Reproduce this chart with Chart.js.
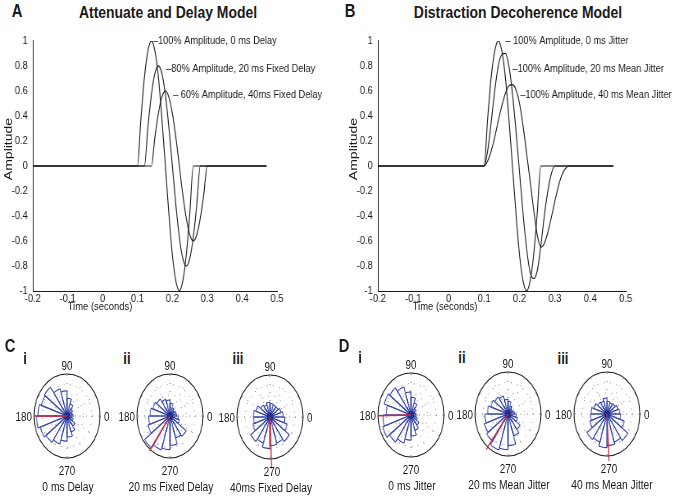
<!DOCTYPE html>
<html>
<head>
<meta charset="utf-8">
<script src="https://cdn.jsdelivr.net/npm/chart.js@4.4.1/dist/chart.umd.min.js"></script>
<style>
  html, body { margin: 0; padding: 0; background: #fff; }
  #fig { position: relative; width: 675px; height: 497px; overflow: hidden;
         font-family: 'Liberation Sans', Arial, sans-serif; color: #1a1a1a; }
  #fig canvas { position: absolute; }
  .t { position: absolute; white-space: nowrap; transform: translate(-50%, -50%) scaleX(0.82); line-height: 1; }
  .b { font-weight: bold; }
  .rot { transform: translate(-50%, -50%) rotate(-90deg) scaleY(0.82); }
</style>
</head>
<body>
<div id="fig">
  <!-- the whole figure is condensed horizontally, so canvases are drawn wide and squeezed by css -->
  <canvas id="chartA" width="410" height="290" style="left:0;top:28px;width:336px;height:290px"></canvas>
  <canvas id="chartB" width="402" height="290" style="left:345px;top:28px;width:330px;height:290px"></canvas>

  <div class="t b" style="left:17px;top:11px;font-size:18px">A</div>
  <div class="t b" style="left:168px;top:12px;font-size:17px">Attenuate and Delay Model</div>
  <div class="t b" style="left:350px;top:11px;font-size:18px">B</div>
  <div class="t b" style="left:518px;top:12px;font-size:17px">Distraction Decoherence Model</div>
  <div class="t rot" style="left:8px;top:149px;font-size:14px">Amplitude</div>
  <div class="t rot" style="left:353px;top:149px;font-size:14px">Amplitude</div>
  <div class="t" style="left:100px;top:307px;font-size:11.5px">Time (seconds)</div>
  <div class="t" style="left:445px;top:307px;font-size:11.5px">Time (seconds)</div>

  <div class="t b" style="left:10px;top:346px;font-size:18px">C</div>
  <div class="t b" style="left:344px;top:346px;font-size:18px">D</div>
  <div class="t b" style="left:25px;top:359px;font-size:16px">i</div>
  <div class="t b" style="left:127px;top:359px;font-size:16px">ii</div>
  <div class="t b" style="left:238px;top:359px;font-size:16px">iii</div>
  <div class="t b" style="left:360px;top:358px;font-size:16px">i</div>
  <div class="t b" style="left:462px;top:358px;font-size:16px">ii</div>
  <div class="t b" style="left:563px;top:359px;font-size:16px">iii</div>
</div>

<script>
const FONT = "'Liberation Sans', Arial, sans-serif";

// waveforms, panel A (attenuate + fixed delay)
const timeA1 = [-0.2, 0.10, 0.11, 0.12, 0.13, 0.14, 0.15, 0.16, 0.17, 0.18, 0.19, 0.20, 0.21, 0.22, 0.23, 0.24, 0.25, 0.26, 0.47];
const ampA1  = [0, 0, 0.38, 0.71, 0.92, 1, 0.92, 0.71, 0.38, 0, -0.38, -0.71, -0.92, -1, -0.92, -0.71, -0.38, 0, 0];
const timeA2 = [-0.2, 0.12, 0.13, 0.14, 0.15, 0.16, 0.17, 0.18, 0.19, 0.20, 0.21, 0.22, 0.23, 0.24, 0.25, 0.26, 0.27, 0.28, 0.47];
const ampA2  = [0, 0, 0.31, 0.57, 0.74, 0.8, 0.74, 0.57, 0.31, 0, -0.31, -0.57, -0.74, -0.8, -0.74, -0.57, -0.31, 0, 0];
const timeA3 = [-0.2, 0.14, 0.15, 0.16, 0.17, 0.18, 0.19, 0.20, 0.21, 0.22, 0.23, 0.24, 0.25, 0.26, 0.27, 0.28, 0.29, 0.30, 0.47];
const ampA3  = [0, 0, 0.23, 0.42, 0.55, 0.6, 0.55, 0.42, 0.23, 0, -0.23, -0.42, -0.55, -0.6, -0.55, -0.42, -0.23, 0, 0];

// waveforms, panel B (jitter)
const timeB1 = [-0.2, 0.10, 0.11, 0.12, 0.13, 0.14, 0.15, 0.16, 0.17, 0.18, 0.19, 0.20, 0.21, 0.22, 0.23, 0.24, 0.25, 0.26, 0.465];
const ampB1  = [0, 0, 0.38, 0.71, 0.92, 1, 0.92, 0.71, 0.38, 0, -0.38, -0.71, -0.92, -1, -0.92, -0.71, -0.38, 0, 0];
const timeB2 = [-0.2, 0.10, 0.11, 0.12, 0.13, 0.14, 0.15, 0.16, 0.17, 0.18, 0.19, 0.20, 0.21, 0.22, 0.23, 0.24, 0.25, 0.26, 0.27, 0.28, 0.29, 0.30, 0.465];
const ampB2  = [0, 0, 0.12, 0.35, 0.6, 0.8, 0.89, 0.9, 0.8, 0.58, 0.28, -0.05, -0.38, -0.66, -0.85, -0.9, -0.84, -0.64, -0.4, -0.2, -0.06, 0, 0];
const timeB3 = [-0.2, 0.10, 0.11, 0.12, 0.13, 0.14, 0.15, 0.16, 0.17, 0.18, 0.19, 0.20, 0.21, 0.22, 0.23, 0.24, 0.25, 0.26, 0.27, 0.28, 0.29, 0.30, 0.31, 0.32, 0.33, 0.34, 0.465];
const ampB3  = [0, 0, 0.04, 0.12, 0.23, 0.36, 0.48, 0.58, 0.64, 0.65, 0.61, 0.5, 0.32, 0.1, -0.12, -0.35, -0.55, -0.65, -0.62, -0.53, -0.41, -0.28, -0.16, -0.07, -0.02, 0, 0];

const labelsA = ['\u2013100% Amplitude, 0 ms Delay', '\u201380% Amplitude, 20 ms Fixed Delay', '\u2013 60% Amplitude, 40ms Fixed Delay'];
const labelsB = ['\u2013 100% Amplitude, 0 ms Jitter', '\u2013100% Amplitude, 20 ms Mean Jitter', '\u2013100% Amplitude, 40 ms Mean Jitter'];

// rose histograms: 20 bins of 18 deg, counter-clockwise from 0 deg, relative to outer ring
const roseBins = [0, 18, 36, 54, 72, 90, 108, 126, 144, 162, 180, 198, 216, 234, 252, 270, 288, 306, 324, 342];
const roseC1 = [0.18, 0.15, 0.2, 0.3, 0.42, 0.6, 0.68, 0.85, 0.82, 0.88, 0.92, 0.85, 0.78, 0.7, 0.6, 0.5, 0.4, 0.3, 0.2, 0.15];
const roseC2 = [0.2, 0.18, 0.15, 0.2, 0.3, 0.38, 0.42, 0.5, 0.55, 0.6, 0.65, 0.7, 0.95, 0.85, 0.8, 0.7, 0.55, 0.6, 0.3, 0.25];
const roseC3 = [0.4, 0.35, 0.3, 0.3, 0.32, 0.35, 0.3, 0.35, 0.45, 0.5, 0.5, 0.55, 0.72, 0.65, 0.75, 0.68, 0.65, 0.72, 0.55, 0.45];
const roseD1 = [0.15, 0.12, 0.18, 0.3, 0.42, 0.55, 0.7, 0.8, 0.85, 0.75, 0.85, 0.9, 0.8, 0.7, 0.6, 0.5, 0.38, 0.3, 0.2, 0.15];
const roseD2 = [0.2, 0.15, 0.15, 0.2, 0.3, 0.35, 0.45, 0.5, 0.55, 0.62, 0.7, 0.75, 0.8, 0.9, 0.85, 0.75, 0.55, 0.45, 0.3, 0.25];
const roseD3 = [0.38, 0.35, 0.3, 0.28, 0.3, 0.38, 0.32, 0.35, 0.42, 0.48, 0.5, 0.55, 0.75, 0.7, 0.8, 0.75, 0.7, 0.78, 0.55, 0.42];
const meanAngle  = [180, 233, 272, 181, 232, 273];
const meanLength = [1.0, 1.05, 1.23, 1.0, 1.07, 1.12];
const roseTitles = ['0 ms Delay', '20 ms Fixed Delay', '40ms Fixed Delay', '0 ms Jitter', '20 ms Mean Jitter', '40 ms Mean Jitter'];
const roseAxisLabels = ['0', '90', '180', '270'];

// layout of the six roses (page centres)
const rosePlaces = [[67, 416], [170, 416], [270, 417], [411, 415], [508, 414], [607, 414]];

Chart.defaults.font.family = FONT;
Chart.defaults.color = '#1a1a1a';

function curveLabels(items) {
  return {
    id: 'curveLabels',
    afterDatasetsDraw(chart) {
      const {ctx, scales: {x, y}} = chart;
      ctx.save();
      ctx.font = '11.3px ' + FONT;
      ctx.fillStyle = '#1a1a1a';
      ctx.textBaseline = 'middle';
      items.forEach(it => ctx.fillText(it.text, x.getPixelForValue(it.x), y.getPixelForValue(it.y)));
      ctx.restore();
    }
  };
}

const tickText = v => String(Math.round(v * 10) / 10);

function waveChart(id, curves, padRight, items) {
  return new Chart(document.getElementById(id), {
    type: 'line',
    data: {
      datasets: curves.map(c => ({
        data: c[0].map((t, i) => ({x: t, y: c[1][i]})),
        borderColor: '#1a1a1a',
        borderWidth: 1.1,
        pointRadius: 0,
        fill: false,
        cubicInterpolationMode: 'monotone'
      }))
    },
    options: {
      responsive: false,
      animation: false,
      events: [],
      layout: {padding: {top: 10, right: padRight, left: 0, bottom: 0}},
      plugins: {legend: {display: false}, tooltip: {enabled: false}},
      scales: {
        x: {
          type: 'linear', min: -0.2, max: 0.5,
          ticks: {stepSize: 0.1, padding: 1, font: {size: 11.5}, callback: tickText},
          grid: {display: false, drawTicks: false},
          border: {color: '#1a1a1a'},
          afterFit: s => { s.height = 27; }
        },
        y: {
          min: -1, max: 1,
          ticks: {stepSize: 0.2, padding: 6, font: {size: 11.5}, callback: tickText},
          grid: {display: false, drawTicks: false},
          border: {color: '#1a1a1a'},
          afterFit: s => { s.width = 40; }
        }
      }
    },
    plugins: [curveLabels(items)]
  });
}

waveChart('chartA', [[timeA1, ampA1], [timeA2, ampA2], [timeA3, ampA3]], 72, [
  {text: labelsA[0], x: 0.144, y: 1.0},
  {text: labelsA[1], x: 0.182, y: 0.78},
  {text: labelsA[2], x: 0.202, y: 0.565}
]);
waveChart('chartB', [[timeB1, ampB1], [timeB2, ampB2], [timeB3, ampB3]], 60, [
  {text: labelsB[0], x: 0.16, y: 1.0},
  {text: labelsB[1], x: 0.18, y: 0.78},
  {text: labelsB[2], x: 0.202, y: 0.57}
]);

// rose plots
function roseDecor(angleDeg, len) {
  return {
    id: 'roseDecor',
    beforeDatasetsDraw(chart) {
      const r = chart.scales.r, ctx = chart.ctx;
      const R = r.getDistanceFromCenterForValue(r.max);
      ctx.save();
      ctx.strokeStyle = '#666';
      ctx.lineWidth = 1;
      ctx.setLineDash([1, 7]);
      for (let a = 0; a < 360; a += 30) {
        const t = a * Math.PI / 180;
        ctx.beginPath();
        ctx.moveTo(r.xCenter, r.yCenter);
        ctx.lineTo(r.xCenter + R * Math.cos(t), r.yCenter - R * Math.sin(t));
        ctx.stroke();
      }
      ctx.restore();
    },
    afterDatasetsDraw(chart) {
      const r = chart.scales.r, ctx = chart.ctx;
      const R = r.getDistanceFromCenterForValue(r.max);
      ctx.save();
      // outer ring
      ctx.strokeStyle = '#1a1a1a';
      ctx.lineWidth = 1.1;
      ctx.beginPath();
      ctx.arc(r.xCenter, r.yCenter, R, 0, Math.PI * 2);
      ctx.stroke();
      // centre where the bin edges pile up
      ctx.fillStyle = '#22308a';
      ctx.beginPath();
      ctx.arc(r.xCenter, r.yCenter, 4, 0, Math.PI * 2);
      ctx.fill();
      // mean phase vector
      const t = angleDeg * Math.PI / 180;
      const L = r.getDistanceFromCenterForValue(len);
      ctx.strokeStyle = '#d0283c';
      ctx.lineWidth = 1.3;
      ctx.beginPath();
      ctx.moveTo(r.xCenter, r.yCenter);
      ctx.lineTo(r.xCenter + L * Math.cos(t), r.yCenter - L * Math.sin(t));
      ctx.stroke();
      ctx.restore();
    }
  };
}

const fig = document.getElementById('fig');
function addText(txt, x, y, size, align) {
  const d = document.createElement('div');
  d.className = 't';
  d.textContent = txt;
  d.style.left = x + 'px';
  d.style.top = y + 'px';
  d.style.fontSize = size + 'px';
  if (align === 'right') { d.style.transformOrigin = '100% 50%'; d.style.transform = 'translate(-100%, -50%) scaleX(0.82)'; }
  if (align === 'left') { d.style.transformOrigin = '0 50%'; d.style.transform = 'translate(0, -50%) scaleX(0.82)'; }
  fig.appendChild(d);
}

[roseC1, roseC2, roseC3, roseD1, roseD2, roseD3].forEach((counts, k) => {
  const [cx, cy] = rosePlaces[k];
  const cv = document.createElement('canvas');
  cv.width = 112; cv.height = 112;
  cv.style.left = (cx - 44) + 'px';
  cv.style.top = (cy - 56) + 'px';
  cv.style.width = '88px';
  cv.style.height = '112px';
  fig.appendChild(cv);

  new Chart(cv, {
    type: 'polarArea',
    data: {
      // chart.js runs clockwise, so reverse the counter-clockwise bins
      labels: roseBins.slice().reverse().map(b => b + '\u00b0'),
      datasets: [{
        data: counts.slice().reverse(),
        backgroundColor: 'rgba(0,0,0,0)',
        borderColor: '#3444a8',
        borderWidth: 1.1
      }]
    },
    options: {
      responsive: false,
      animation: false,
      events: [],
      layout: {padding: 14},
      plugins: {legend: {display: false}, tooltip: {enabled: false}},
      scales: {
        r: {
          min: 0, max: 1, startAngle: 90,
          ticks: {display: false, stepSize: 0.25},
          grid: {color: '#666', lineWidth: 1, borderDash: [1, 7]},
          border: {dash: [1, 7]},
          pointLabels: {display: false}
        }
      }
    },
    plugins: [roseDecor(meanAngle[k], meanLength[k])]
  });

  addText(roseAxisLabels[1], cx, cy - 50, 12);
  addText(roseAxisLabels[3], cx + (k === 2 || k === 5 ? 2 : 0), cy + 55, 12);
  addText(roseAxisLabels[2], cx - 35, cy + 1, 12, 'right');
  addText(roseAxisLabels[0], cx + 37, cy + 1, 12, 'left');
  addText(roseTitles[k], cx + (k === 5 ? 5 : 1), cy + 71, 12.5);
});
</script>
</body>
</html>
